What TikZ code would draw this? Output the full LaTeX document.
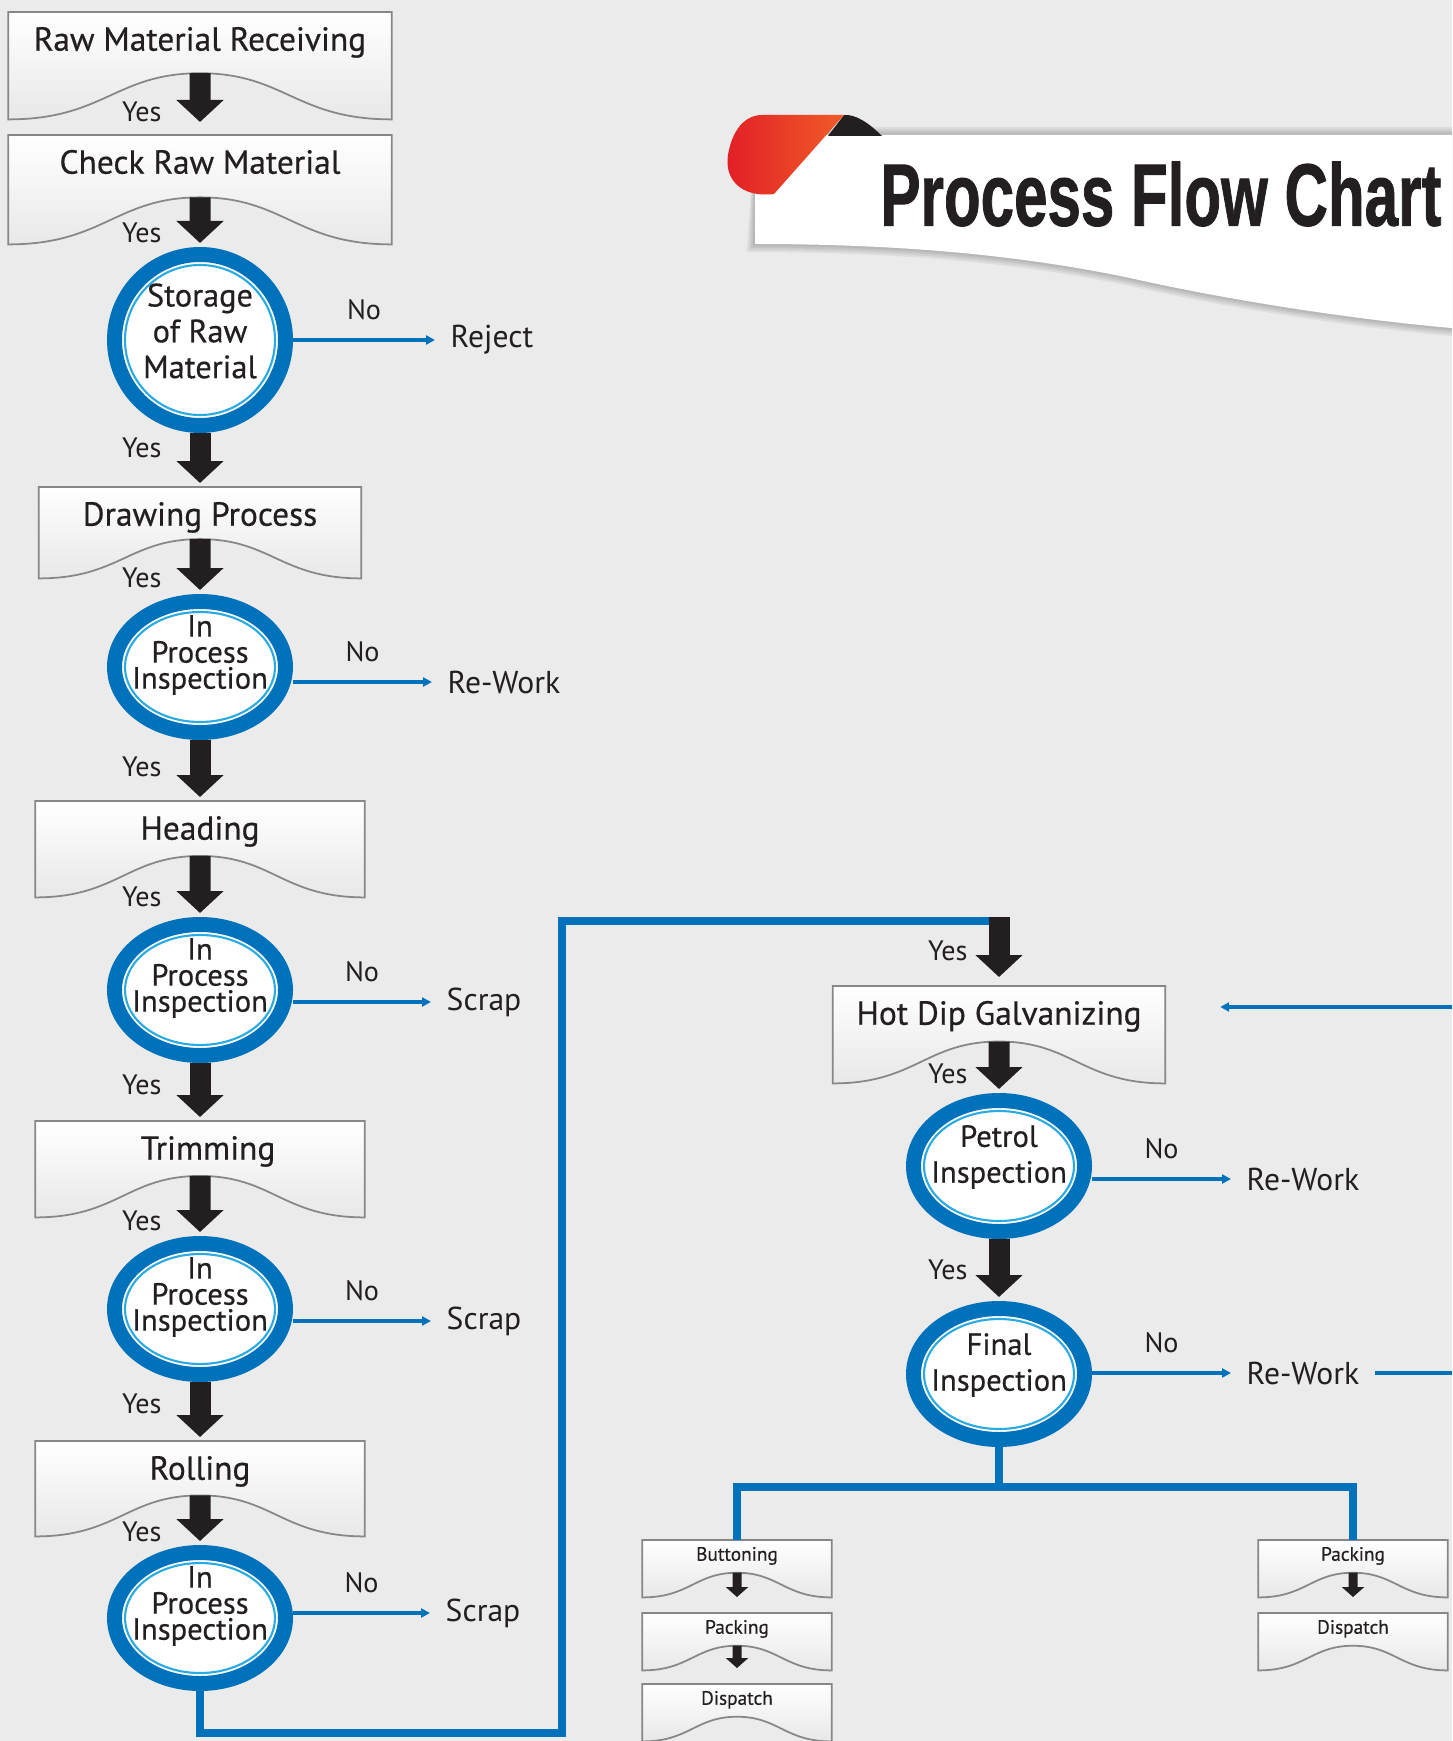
\documentclass[tikz,border=0pt]{standalone}
\usepackage{graphicx}
\usepackage{fontspec}
\setmainfont{PT Sans}
\newfontfamily\medfont[FakeBold=0.5]{PT Sans}
\newfontfamily\titlefont[FakeBold=1.2]{Liberation Sans}
\usepackage{tikz}
\usetikzlibrary{arrows.meta, positioning, calc, shapes.geometric, backgrounds}
\definecolor{flowblue}{RGB}{0,114,188}
\definecolor{ringcyan}{RGB}{41,171,226}
\definecolor{arrowblack}{RGB}{35,31,32}
\definecolor{paper}{RGB}{235,235,235}
\definecolor{boxedge}{RGB}{135,135,135}
\definecolor{curlred}{RGB}{226,30,38}
\definecolor{curlorange}{RGB}{240,92,40}

\begin{document}
\begin{tikzpicture}[
    docbox/.style={anchor=north, inner xsep=0pt, inner ysep=0.13cm, text height=0.25cm, text depth=#1, text=arrowblack, font=\medfont\fontsize{9.5}{10}\selectfont},
    docbox/.default=0.44cm,
    minibox/.style={anchor=north, inner xsep=0pt, inner ysep=0.07cm, text height=0.13cm, text depth=0.29cm, minimum width=1.88cm, text=arrowblack, font=\medfont\fontsize{5.5}{6}\selectfont},
    docshape/.style={draw=boxedge, line width=0.5pt, top color=white, bottom color=black!9},
    ring/.style={ellipse, draw=flowblue, line width=0.15cm, fill=white, inner sep=0pt, minimum width=1.71cm, minimum height=1.31cm,
      path picture={\draw[ringcyan, line width=0.6pt] let \p1=($(path picture bounding box.north east)-(path picture bounding box.center)$) in (path picture bounding box.center) ellipse [x radius=\x1-0.105cm, y radius=\y1-0.105cm];}},
    ringtext/.style={align=center, inner sep=0pt, yshift=0.09cm, text=arrowblack, font=\medfont\fontsize{8.7}{10.2}\selectfont},
    tight/.style={yshift=0.03cm, font=\medfont\fontsize{8.7}{7.4}\selectfont},
    outcome/.style={anchor=west, inner xsep=0.15cm, inner ysep=0pt, text=arrowblack, font=\fontsize{9}{10}\selectfont},
    yes/.style={left=0.28cm, inner sep=0pt, text=arrowblack, font=\fontsize{8}{9}\selectfont},
    nolabel/.style={above=0.18cm, inner sep=0pt, text=arrowblack, font=\fontsize{8}{9}\selectfont},
    flow/.style={arrowblack, line width=0.21cm, -{Triangle[length=0.22cm, width=0.46cm]}, shorten >=0.04cm},
    smallflow/.style={arrowblack, line width=0.09cm, -{Triangle[length=0.1cm, width=0.22cm]}, shorten >=0.16cm},
    noflow/.style={flowblue, line width=0.04cm, -{Triangle[length=0.09cm, width=0.09cm]}},
    link/.style={flowblue, line width=0.08cm}
]
\useasboundingbox (0,0) rectangle (14.52,-17.41);
\begin{scope}[on background layer]
\fill[paper] (0,0) rectangle (14.52,-17.41);
\end{scope}

% banner with title
\foreach \s in {0.02,0.04,0.06,0.08}
  \fill[black, opacity=0.06] (7.55,-1.35+\s) -- (14.52,-1.35+\s) -- (14.52,-3.28-\s) .. controls (13.8,-3.22-\s) and (12.5,-3.05-\s) .. (11.3,-2.78-\s) .. controls (10.2,-2.55-\s) and (9.0,-2.44-\s) .. (7.55-\s,-2.44-\s) -- cycle;
\fill[white] (7.55,-1.35) -- (14.52,-1.35) -- (14.52,-3.28) .. controls (13.8,-3.22) and (12.5,-3.05) .. (11.3,-2.78) .. controls (10.2,-2.55) and (9.0,-2.44) .. (7.55,-2.44) -- cycle;
\fill[arrowblack] (8.28,-1.36) -- (8.44,-1.15) .. controls (8.56,-1.14) and (8.70,-1.24) .. (8.82,-1.36) -- cycle;
\shade[left color=curlred, right color=curlorange] (7.62,-1.15) -- (8.44,-1.15) -- (7.74,-1.94) .. controls (7.42,-1.98) and (7.24,-1.80) .. (7.28,-1.55) .. controls (7.32,-1.30) and (7.45,-1.15) .. (7.62,-1.15) -- cycle;
\node[text=arrowblack] (title) at (11.61,-1.94) {\resizebox{5.61cm}{0.64cm}{\titlefont\bfseries Process Flow Chart}};

% left column
\node[docbox=0.55cm, minimum width=3.82cm] (recv) at (2.00,-0.12) {Raw Material Receiving};
\node[docbox=0.57cm, minimum width=3.82cm] (check) at (2.00,-1.35) {Check Raw Material};
\node[ring, minimum width=1.71cm, minimum height=1.71cm] (sto) at (2.00,-3.40) {};
\node[ringtext, font=\medfont\fontsize{9.2}{10.2}\selectfont] (sto-t) at (sto) {Storage\\of Raw\\Material};
\node[outcome] (rej) at (4.35,-3.40) {Reject};
\node[docbox=0.39cm, minimum width=3.21cm] (drw) at (2.00,-4.87) {Drawing Process};
\node[ring] (ip1) at (2.00,-6.67) {};
\node[ringtext, tight] (ip1-t) at (ip1) {In\\Process\\Inspection};
\node[outcome] (rw1) at (4.32,-6.82) {Re-Work};
\node[docbox, minimum width=3.28cm] (head) at (2.00,-8.01) {Heading};
\node[ring] (ip2) at (2.00,-9.90) {};
\node[ringtext, tight] (ip2-t) at (ip2) {In\\Process\\Inspection};
\node[outcome] (sc2) at (4.31,-10.02) {Scrap};
\node[docbox, minimum width=3.28cm] (trim) at (2.00,-11.21) {\hspace*{0.16cm}Trimming};
\node[ring] (ip3) at (2.00,-13.09) {};
\node[ringtext, tight] (ip3-t) at (ip3) {In\\Process\\Inspection};
\node[outcome] (sc3) at (4.31,-13.21) {Scrap};
\node[docbox=0.43cm, minimum width=3.28cm] (roll) at (2.00,-14.41) {Rolling};
\node[ring] (ip4) at (2.00,-16.18) {};
\node[ringtext, tight] (ip4-t) at (ip4) {In\\Process\\Inspection};
\node[outcome] (sc4) at (4.30,-16.13) {Scrap};

% right column
\node[docbox=0.45cm, minimum width=3.31cm] (hdg) at (9.99,-9.86) {Hot Dip Galvanizing};
\node[ring] (pet) at (9.99,-11.66) {};
\node[ringtext] (pet-t) at (pet) {Petrol\\Inspection};
\node[outcome] (rw5) at (12.31,-11.79) {Re-Work};
\node[ring] (fin) at (9.99,-13.74) {};
\node[ringtext] (fin-t) at (fin) {Final\\Inspection};
\node[outcome] (rw6) at (12.31,-13.73) {Re-Work};
\node[minibox] (btn) at (7.37,-15.40) {Buttoning};
\node[minibox] (pka) at (7.37,-16.13) {Packing};
\node[minibox] (dsa) at (7.37,-16.84) {Dispatch};
\node[minibox] (pkb) at (13.53,-15.40) {Packing};
\node[minibox] (dsb) at (13.53,-16.13) {Dispatch};

\coordinate (bend) at (5.62,-17.33);
\coordinate (feed) at (9.99,-9.21);
\coordinate (loopin) at (14.52,-10.07);
\coordinate (loopout) at (14.52,-13.73);

% wavy paper boxes behind the texts
\begin{scope}[on background layer]
\foreach \b in {recv,check,drw,head,trim,roll,hdg,btn,pka,dsa,pkb,dsb} {
  \path[docshape] let \p1=(\b.north west), \p2=(\b.south east), \n1={\x2-\x1}, \n2={\y2+0.43*(\y1-\y2)}, \n3={0.5*(\x1+\x2)} in
    (\x1,\y1) -- (\x1,\y2) .. controls ({\x1+0.25*\n1},\y2) and ({\n3-0.22*\n1},\n2) .. (\n3,\n2)
    .. controls ({\n3+0.22*\n1},\n2) and ({\x2-0.25*\n1},\y2) .. (\x2,\y2) -- (\x2,\y1) -- cycle;
  \coordinate (\b-c) at ($(\b.south)!0.43!(\b.north)$);
}
\end{scope}

% yes arrows
\draw[flow, shorten >=0.13cm] (recv-c) -- (check.north) node[yes, pos=0.63] {Yes};
\draw[flow] (check-c) -- (sto.north) node[yes, pos=0.72] {Yes};
\draw[flow] (sto.south) -- (drw.north) node[yes, pos=0.28] {Yes};
\draw[flow] (drw-c) -- (ip1.north) node[yes, pos=0.71] {Yes};
\draw[flow] (ip1.south) -- (head.north) node[yes, pos=0.44] {Yes};
\draw[flow] (head-c) -- (ip2.north) node[yes, pos=0.67] {Yes};
\draw[flow] (ip2.south) -- (trim.north) node[yes, pos=0.38] {Yes};
\draw[flow] (trim-c) -- (ip3.north) node[yes, pos=0.75] {Yes};
\draw[flow] (ip3.south) -- (roll.north) node[yes, pos=0.37] {Yes};
\draw[flow] (roll-c) -- (ip4.north) node[yes, pos=0.73] {Yes};
\draw[link] (ip4.south) |- (bend) |- (feed);
\draw[flow, shorten >=0.09cm] ([yshift=0.04cm]feed) -- (hdg.north) node[yes, left=0.21cm, pos=0.49] {Yes};
\draw[flow] (hdg-c) -- (pet.north) node[yes, left=0.21cm, pos=0.62] {Yes};
\draw[flow] (pet.south) -- (fin.north) node[yes, left=0.21cm, pos=0.49] {Yes};
\draw[smallflow] (btn-c) -- (pka.north);
\draw[smallflow] (pka-c) -- (dsa.north);
\draw[smallflow] (pkb-c) -- (dsb.north);

% no arrows
\draw[noflow] (sto.east |- rej) -- (rej.west) node[nolabel, midway] {No};
\draw[noflow] (ip1.east |- rw1) -- (rw1.west) node[nolabel, midway] {No};
\draw[noflow] (ip2.east |- sc2) -- (sc2.west) node[nolabel, midway] {No};
\draw[noflow] (ip3.east |- sc3) -- (sc3.west) node[nolabel, midway] {No};
\draw[noflow] (ip4.east |- sc4) -- (sc4.west) node[nolabel, midway] {No};
\draw[noflow] (pet.east |- rw5) -- (rw5.west) node[nolabel, midway] {No};
\draw[noflow] (fin.east |- rw6) -- (rw6.west) node[nolabel, midway] {No};
\draw[flowblue, line width=0.04cm] (rw6.east) -- (loopout);
\draw[noflow, shorten >=0.55cm] (loopin) -- (hdg.east |- loopin);

% split after final inspection
\draw[link] (fin.south) -- ++(0,-0.40) coordinate (fork);
\draw[link] (btn.north) |- (fork) -| (pkb.north);

\end{tikzpicture}
\end{document}
